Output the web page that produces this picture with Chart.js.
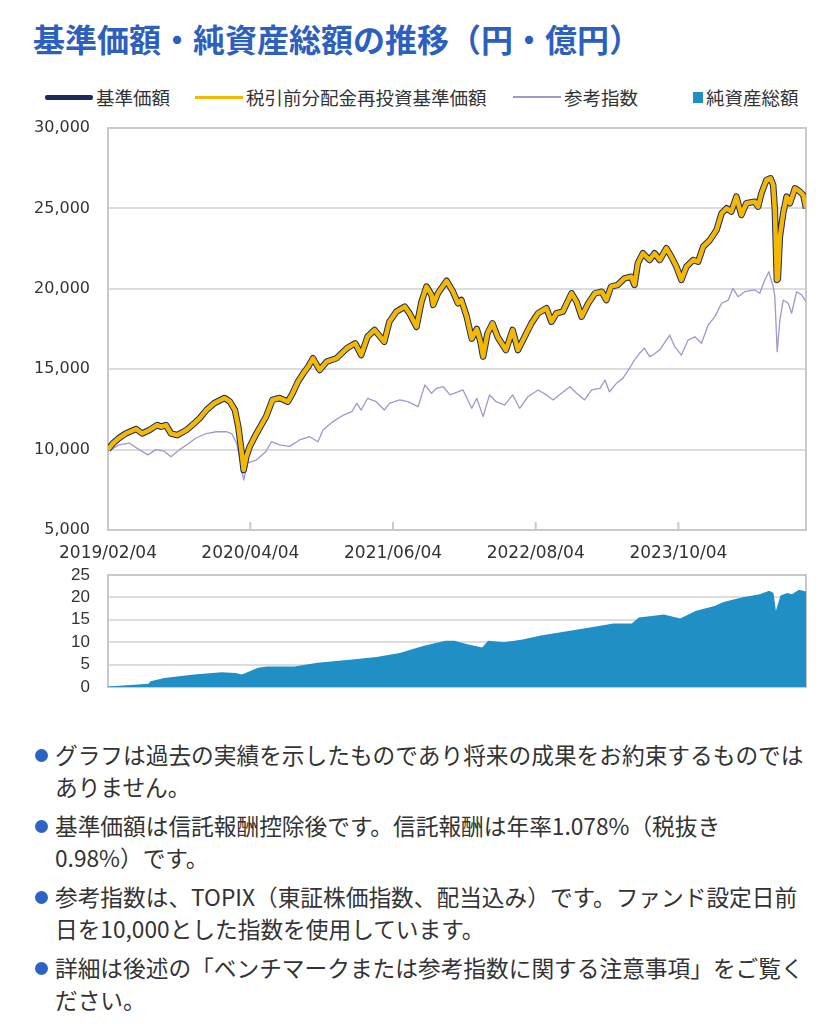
<!DOCTYPE html>
<html lang="ja">
<head>
<meta charset="utf-8">
<title>基準価額・純資産総額の推移</title>
<script src="https://cdn.jsdelivr.net/npm/chart.js@4.4.0/dist/chart.umd.min.js"></script>
<style>
  body { margin: 0; background: #fff; width: 836px; height: 1024px; position: relative; overflow: hidden;
         font-family: "Noto Sans CJK JP", "Noto Sans", sans-serif; }
  h1 { position: absolute; left: 33px; top: 18px; margin: 0; font-size: 32px; line-height: 40px;
       font-weight: bold; color: #2d5fbf; white-space: nowrap; }
  #legend { position: absolute; left: 0; top: 85px; width: 836px; height: 24px; font-size: 18.5px; color: #333; }
  .lg { position: absolute; top: 0; height: 24px; display: flex; align-items: center; white-space: nowrap; }
  .lg i { display: inline-block; margin-right: 3px; }
  /* plot areas: main 108..806 x 128..530, sub 108..806 x 575..687 */
  #mainWrap { position: absolute; left: 0; top: 100px; width: 836px; height: 470px; }
  #subWrap { position: absolute; left: 0; top: 547px; width: 836px; height: 168px; }
  ul.notes { position: absolute; left: 0; top: 739px; margin: 0; padding: 0 0 0 55px; list-style: none;
             font-size: 22.7px; line-height: 32px; color: #333; white-space: nowrap; }
  ul.notes li { position: relative; margin-bottom: 7px; }
  ul.notes li::before { content: ""; position: absolute; left: -20px; top: 10px; width: 13px; height: 13px;
                        border-radius: 50%; background: #2d63c4; }
</style>
</head>
<body>
<h1>基準価額・純資産総額の推移（円・億円）</h1>
<div id="legend"></div>
<div id="mainWrap"><canvas id="mainChart"></canvas></div>
<div id="subWrap"><canvas id="aumChart"></canvas></div>
<ul class="notes">
  <li>グラフは過去の実績を示したものであり将来の成果をお約束するものでは<br>ありません。</li>
  <li>基準価額は信託報酬控除後です。信託報酬は年率1.078%（税抜き<br>0.98%）です。</li>
  <li>参考指数は、TOPIX（東証株価指数、配当込み）です。ファンド設定日前<br>日を10,000とした指数を使用しています。</li>
  <li>詳細は後述の「ベンチマークまたは参考指数に関する注意事項」をご覧く<br>ださい。</li>
</ul>
<script>
// series names (legend order)
const seriesNames = ["基準価額", "税引前分配金再投資基準価額", "参考指数", "純資産総額"];

// x axis
const startDate = "2019-02-04";
const endDate = "2024-10-19";
const xTickLabels = ["2019/02/04", "2020/04/04", "2021/06/04", "2022/08/04", "2023/10/04"];
const yTicksMain = [5000, 10000, 15000, 20000, 25000, 30000];
const yTicksAum = [0, 5, 10, 15, 20, 25];

// 基準価額 (円)
const navDates = [
  "2019-02-04","2019-02-19","2019-03-09","2019-03-29","2019-04-29","2019-05-17","2019-06-08","2019-07-01",
  "2019-07-12","2019-07-27","2019-08-11","2019-08-30","2019-09-26","2019-10-14","2019-11-05","2019-11-25",
  "2019-12-19","2020-01-18","2020-02-03","2020-02-18","2020-02-28","2020-03-08","2020-03-15","2020-03-23",
  "2020-04-02","2020-04-22","2020-05-21","2020-06-09","2020-06-30","2020-07-25","2020-08-08","2020-08-24",
  "2020-09-09","2020-09-24","2020-10-08","2020-10-28","2020-11-18","2020-12-17","2021-01-17","2021-02-11",
  "2021-03-01","2021-03-20","2021-04-10","2021-05-09","2021-05-24","2021-06-14","2021-07-09","2021-07-23",
  "2021-08-13","2021-08-28","2021-09-12","2021-09-27","2021-10-02","2021-10-16","2021-11-11","2021-11-30",
  "2021-12-15","2021-12-25","2022-01-10","2022-01-25","2022-02-09","2022-02-19","2022-02-28","2022-03-13",
  "2022-03-28","2022-04-12","2022-05-07","2022-05-27","2022-06-12","2022-07-02","2022-07-22","2022-08-11",
  "2022-09-05","2022-09-20","2022-10-05","2022-10-24","2022-11-19","2022-12-04","2022-12-19","2023-01-08",
  "2023-01-28","2023-02-17","2023-03-03","2023-03-17","2023-04-06","2023-04-26","2023-05-16","2023-05-26",
  "2023-06-05","2023-06-20","2023-07-10","2023-07-25","2023-08-09","2023-08-29","2023-09-13","2023-09-28",
  "2023-10-13","2023-10-28","2023-11-17","2023-12-02","2023-12-17","2024-01-06","2024-01-26","2024-02-10",
  "2024-02-25","2024-03-10","2024-03-25","2024-04-09","2024-04-24","2024-05-19","2024-05-29","2024-06-08",
  "2024-06-23","2024-07-05","2024-07-13","2024-07-18","2024-07-24","2024-07-27","2024-08-02","2024-08-12",
  "2024-08-22","2024-09-01","2024-09-16","2024-10-01","2024-10-11","2024-10-19"
];
const navValues = [
  10000,10400,10720,11000,11280,11000,11220,11530,
  11420,11530,11000,10900,11220,11530,11960,12460,
  12900,13210,12980,12460,11420,10000,8730,9560,
  10180,11000,12050,13090,13210,12980,13500,14220,
  14740,15160,15680,14950,15470,15680,16300,16610,
  15880,17020,17440,16710,17950,18580,18890,18480,
  17640,19200,20140,19620,19000,19720,20500,19820,
  19100,19300,18270,16900,17500,16800,15780,17230,
  17850,17020,16190,17440,16190,17020,17850,18480,
  18790,17950,18480,18580,19720,19200,18270,19100,
  19720,19820,19300,20140,20240,20650,20750,20240,
  21590,22210,21790,22210,21790,22520,22000,21380,
  20550,21380,21790,21690,22620,23030,23660,24700,
  25010,24800,25730,24590,25320,25420,25110,25940,
  26770,26870,26460,24900,20550,20600,23240,24700,
  25730,25320,26250,26040,25830,25010
];
// no distributions were paid, so the reinvested NAV is the same series
const reinvestValues = navValues;

// 参考指数 (TOPIX 配当込み, 10,000 基準)
const indexDates = [
  "2019-02-04","2019-03-09","2019-04-09","2019-05-08","2019-06-03","2019-06-27","2019-07-22","2019-08-11",
  "2019-09-06","2019-09-26","2019-10-25","2019-11-25","2019-12-24","2020-01-24","2020-02-08","2020-02-23",
  "2020-03-08","2020-03-15","2020-03-27","2020-04-22","2020-05-21","2020-06-06","2020-06-30","2020-07-30",
  "2020-08-29","2020-09-28","2020-10-23","2020-11-07","2020-12-07","2021-01-07","2021-02-01","2021-02-16",
  "2021-03-01","2021-03-20","2021-04-15","2021-05-09","2021-05-24","2021-06-24","2021-07-18","2021-08-18",
  "2021-09-07","2021-09-27","2021-10-12","2021-11-01","2021-11-21","2021-12-30","2022-01-25","2022-02-09",
  "2022-02-28","2022-03-19","2022-04-08","2022-05-03","2022-05-27","2022-06-17","2022-07-12","2022-08-11",
  "2022-09-05","2022-09-25","2022-10-20","2022-11-14","2022-12-04","2022-12-28","2023-01-18","2023-02-12",
  "2023-02-27","2023-03-12","2023-04-02","2023-04-21","2023-05-11","2023-05-26","2023-06-10","2023-06-25",
  "2023-07-10","2023-07-20","2023-08-09","2023-09-08","2023-09-23","2023-10-13","2023-11-02","2023-11-22",
  "2023-12-12","2024-01-01","2024-01-21","2024-02-10","2024-03-01","2024-03-15","2024-03-30","2024-04-19",
  "2024-05-19","2024-06-03","2024-06-18","2024-06-30","2024-07-13","2024-07-18","2024-07-25","2024-08-02",
  "2024-08-12","2024-08-27","2024-09-06","2024-09-21","2024-10-06","2024-10-19"
];
const indexValues = [
  9900,10290,10400,10000,9670,10000,9900,9560,
  10000,10290,10720,11000,11110,11110,11000,10400,
  8940,8110,9170,9350,9900,10490,10290,10200,
  10600,10800,10490,11220,11740,12150,12360,12880,
  12460,13190,12980,12460,12880,13090,12980,12670,
  14020,13500,13810,13910,13400,13710,12570,13190,
  12050,13400,12980,12770,13400,12570,13290,13710,
  13400,13090,13500,13910,13500,13090,13710,13810,
  14330,13600,14120,14430,15050,15570,15990,16300,
  15780,15880,16190,17120,16400,15880,16810,17020,
  16610,17750,18270,19100,19300,20030,19510,19820,
  19930,19720,20550,21060,20140,19510,16090,18060,
  19300,19100,18480,19820,19620,19200
];

// 純資産総額 (億円)
const aumDates = [
  "2019-02-04","2019-06-05","2019-06-11","2019-07-22","2019-10-19","2020-01-10","2020-02-20","2020-03-10",
  "2020-04-27","2020-05-24","2020-08-14","2020-10-22","2021-01-26","2021-04-16","2021-06-24","2021-08-30",
  "2021-11-07","2021-12-04","2022-01-15","2022-02-25","2022-03-15","2022-05-02","2022-06-26","2022-08-19",
  "2022-11-10","2023-01-31","2023-03-24","2023-05-18","2023-06-08","2023-08-22","2023-10-09","2023-11-26",
  "2024-01-20","2024-02-16","2024-04-10","2024-06-03","2024-07-01","2024-07-14","2024-07-21","2024-08-04",
  "2024-08-24","2024-09-07","2024-09-28","2024-10-19"
];
const aumValues = [
  0.1,0.75,1.3,2.0,2.8,3.3,3.1,2.8,
  4.3,4.6,4.6,5.4,6.1,6.7,7.6,9.1,
  10.3,10.3,9.5,8.8,10.3,10.0,10.6,11.5,
  12.5,13.5,14.2,14.2,15.5,16.2,15.3,17.0,
  18.1,19.0,20.0,20.7,21.5,21.0,17.0,20.4,
  21.0,20.7,21.7,21.3
];

const colors = { nav: "#1b2b5e", reinvest: "#f5b800", index: "#9d97d2", aum: "#1f8fc6" };

const t0 = Date.parse(startDate);
const dayOf = s => (Date.parse(s.replace(/\//g, "-")) - t0) / 86400000;
const toXY = (dates, vals) => dates.map((d, i) => ({ x: dayOf(d), y: vals[i] }));
const endDay = dayOf(endDate);
const xTickDays = xTickLabels.map(dayOf);

// legend (HTML, shared by both charts)
const legendSpec = [
  { name: seriesNames[0], left: 45, swatch: `width:48px;height:5px;background:${colors.nav};border-radius:2px` },
  { name: seriesNames[1], left: 195, swatch: `width:48px;height:3px;background:${colors.reinvest}` },
  { name: seriesNames[2], left: 513, swatch: `width:48px;height:2px;background:${colors.index}` },
  { name: seriesNames[3], left: 693, swatch: `width:10px;height:11px;background:${colors.aum}` }
];
document.getElementById("legend").innerHTML = legendSpec
  .map(l => `<span class="lg" style="left:${l.left}px"><i style="${l.swatch}"></i>${l.name}</span>`)
  .join("");

// frame round the plot area, plus short inner tick marks on the date axis
const framePlugin = {
  id: "frame",
  beforeDatasetsDraw(chart, args, opts) {
    const { ctx, chartArea: a } = chart;
    ctx.save();
    ctx.strokeStyle = "#c9c9c9";
    ctx.lineWidth = 2;
    ctx.strokeRect(a.left, a.top, a.right - a.left, a.bottom - a.top);
    if (opts.innerTicks) {
      const xs = chart.scales.x;
      xs.ticks.forEach((t, i) => {
        if (i === 0) return;
        const px = xs.getPixelForValue(t.value);
        ctx.beginPath();
        ctx.moveTo(px, a.bottom);
        ctx.lineTo(px, a.bottom - 8);
        ctx.stroke();
      });
    }
    ctx.restore();
  }
};

Chart.defaults.animation = false;
Chart.defaults.color = "#333";

new Chart(document.getElementById("mainChart"), {
  type: "line",
  data: {
    datasets: [
      { label: seriesNames[0], data: toXY(navDates, navValues), borderColor: colors.nav,
        borderWidth: 6.5, order: 1 },
      { label: seriesNames[1], data: toXY(navDates, reinvestValues), borderColor: colors.reinvest,
        borderWidth: 4.5, order: 0 },
      { label: seriesNames[2], data: toXY(indexDates, indexValues), borderColor: colors.index,
        borderWidth: 1.3, order: 2 }
    ]
  },
  options: {
    responsive: true,
    maintainAspectRatio: false,
    devicePixelRatio: 1,
    layout: { padding: { top: 0, right: 30, left: 0, bottom: 0 } },
    elements: { point: { radius: 0 }, line: { tension: 0, borderJoinStyle: "round" } },
    plugins: { legend: { display: false }, tooltip: { enabled: false }, frame: { innerTicks: true } },
    scales: {
      x: {
        type: "linear",
        min: 0,
        max: endDay,
        afterBuildTicks: s => { s.ticks = xTickDays.map(v => ({ value: v })); },
        afterFit: s => { s.height = 40; },
        grid: { display: false, drawTicks: false },
        border: { display: false },
        ticks: {
          autoSkip: false, maxRotation: 0, padding: 13,
          font: { family: "DejaVu Sans", size: 17 },
          callback: (v, i) => xTickLabels[i]
        }
      },
      y: {
        min: yTicksMain[0],
        max: yTicksMain[yTicksMain.length - 1],
        afterBuildTicks: s => { s.ticks = yTicksMain.map(v => ({ value: v })); },
        afterFit: s => { s.width = 108; },
        grid: { color: "#dcdcdc", lineWidth: 2, drawTicks: false },
        border: { display: false },
        ticks: {
          padding: 18,
          font: { family: "DejaVu Sans", size: 16, lineHeight: 1.25 },
          callback: v => v.toLocaleString("en-US")
        }
      }
    }
  },
  plugins: [framePlugin]
});

new Chart(document.getElementById("aumChart"), {
  type: "line",
  data: {
    datasets: [
      { label: seriesNames[3], data: toXY(aumDates, aumValues), borderWidth: 0,
        backgroundColor: colors.aum, fill: "origin" }
    ]
  },
  options: {
    responsive: true,
    maintainAspectRatio: false,
    devicePixelRatio: 1,
    layout: { padding: { top: 0, right: 30, left: 0, bottom: 0 } },
    elements: { point: { radius: 0 }, line: { tension: 0 } },
    plugins: { legend: { display: false }, tooltip: { enabled: false }, frame: { innerTicks: false } },
    scales: {
      x: { type: "linear", display: false, min: 0, max: endDay },
      y: {
        min: yTicksAum[0],
        max: yTicksAum[yTicksAum.length - 1],
        afterBuildTicks: s => { s.ticks = yTicksAum.map(v => ({ value: v })); },
        afterFit: s => { s.width = 108; },
        grid: { color: "#dcdcdc", lineWidth: 2, drawTicks: false },
        border: { display: false },
        ticks: { autoSkip: false, padding: 18, font: { family: "Liberation Sans", size: 17, lineHeight: 20 / 17 } }
      }
    }
  },
  plugins: [framePlugin]
});
</script>
</body>
</html>
